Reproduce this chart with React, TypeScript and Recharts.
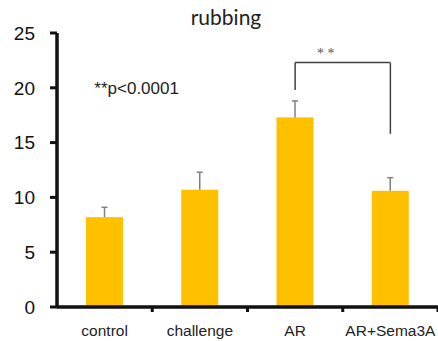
import { Bar, BarChart, ReferenceDot, ReferenceLine, XAxis, YAxis } from 'recharts';

const categories = ['control', 'challenge', 'AR', 'AR+Sema3A'];
const means = [8.2, 10.7, 17.3, 10.6];
const sems = [0.9, 1.6, 1.5, 1.2];
const yTicks = [0, 5, 10, 15, 20, 25];

// significance bracket between AR and AR+Sema3A
const bracketTop = 22.3;
const bracketLeftFoot = 19.8;
const bracketRightFoot = 15.8;

const data = categories.map((name, i) => ({ name, mean: means[i], sem: sems[i] }));

const GOLD = '#FFC000';
const INK = '#111111';
const AXIS_FONT = '"Liberation Sans", Arial, sans-serif';

function BarWithError(props: any) {
  const { x, y, width, height, payload } = props;
  const perUnit = height / payload.mean;
  const errTop = y - payload.sem * perUnit;
  const cx = x + width / 2;
  return (
    <g>
      <rect x={x} y={y} width={width} height={height} fill={GOLD} />
      <line x1={cx} x2={cx} y1={y} y2={errTop} stroke="#808080" strokeWidth={1.5} />
      <line x1={cx - 3} x2={cx + 3} y1={errTop} y2={errTop} stroke="#808080" strokeWidth={1.5} />
    </g>
  );
}

// label at the band centre, short tick mark at the band's right edge (Excel style)
function CategoryTick(props: any) {
  const { x, y, payload } = props;
  const edge = x + (payload.offset ?? 0);
  return (
    <g>
      <line x1={edge} x2={edge} y1={y} y2={y + 5} stroke={INK} strokeWidth={3} />
      <text x={x} y={y + 29} textAnchor="middle" fontSize={15.5} fill="#222" fontFamily={AXIS_FONT}>
        {payload.value}
      </text>
    </g>
  );
}

export default function App() {
  return (
    <div style={{ position: 'absolute', left: 0, top: 0, width: 438, height: 341, background: '#fff' }}>
      <div
        style={{
          position: 'absolute',
          left: 0,
          top: 6,
          width: 438,
          paddingLeft: 14,
          boxSizing: 'border-box',
          textAlign: 'center',
          fontFamily: 'Lato, sans-serif',
          fontSize: 21,
          lineHeight: '21px',
          color: '#222',
        }}
      >
        rubbing
      </div>
      <BarChart
        width={438}
        height={341}
        data={data}
        margin={{ top: 33, right: 0, bottom: 0, left: 0 }}
        barSize={37}
      >
        <XAxis
          dataKey="name"
          stroke={INK}
          strokeWidth={3}
          tickLine={false}
          tickSize={0}
          tickMargin={0}
          height={34}
          interval={0}
          tick={CategoryTick}
        />
        <YAxis
          domain={[0, 25]}
          ticks={yTicks}
          width={57}
          stroke={INK}
          strokeWidth={3}
          tickSize={7}
          tickMargin={15}
          fontSize={19}
          fontFamily={AXIS_FONT}
        />
        <Bar dataKey="mean" shape={BarWithError} isAnimationActive={false} />
        {/* axis lines again, drawn through the scales so they always show */}
        <ReferenceLine y={0} stroke={INK} strokeWidth={3} />
        <ReferenceLine
          segment={[{ x: 'control', y: 0 }, { x: 'control', y: 25 }]}
          position="start"
          stroke={INK}
          strokeWidth={3}
        />
        <ReferenceLine
          segment={[{ x: 'AR', y: bracketTop }, { x: 'AR+Sema3A', y: bracketTop }]}
          stroke="#404040"
          strokeWidth={1.5}
          label={{ value: '* *', position: 'top', fill: '#555', fontSize: 14, offset: 5, dx: -17, fontFamily: '"Liberation Serif", serif' }}
        />
        <ReferenceLine
          segment={[{ x: 'AR', y: bracketLeftFoot }, { x: 'AR', y: bracketTop }]}
          stroke="#404040"
          strokeWidth={1.5}
        />
        <ReferenceLine
          segment={[{ x: 'AR+Sema3A', y: bracketRightFoot }, { x: 'AR+Sema3A', y: bracketTop }]}
          stroke="#404040"
          strokeWidth={1.5}
        />
        <ReferenceDot
          x="control"
          y={20}
          r={0}
          label={{ value: '**p<0.0001', position: 'center', dx: 32, fontSize: 17, fill: '#222', fontFamily: AXIS_FONT }}
        />
      </BarChart>
    </div>
  );
}
